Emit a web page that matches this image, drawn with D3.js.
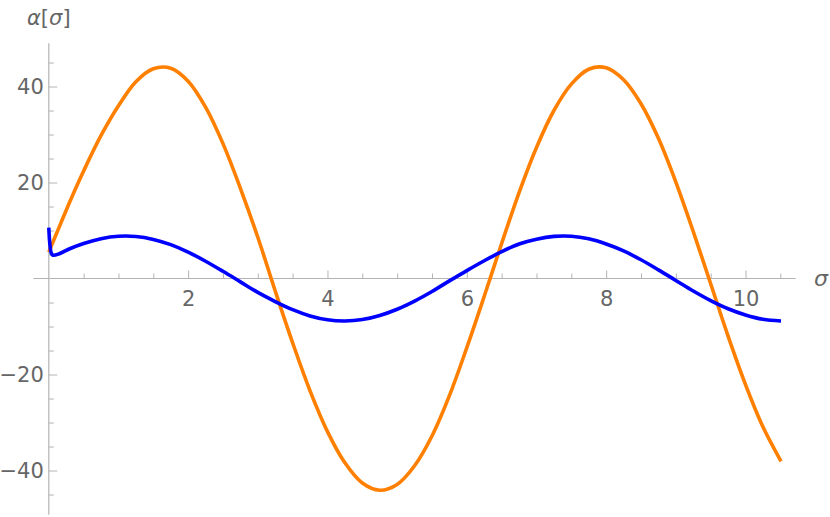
<!DOCTYPE html>
<html>
<head>
<meta charset="utf-8">
<script src="https://cdn.jsdelivr.net/npm/d3@7"></script>
<style>
  body { margin: 0; background: #fff; }
  text { font-family: "DejaVu Sans", sans-serif; }
</style>
</head>
<body>
<script>
// values
const orangeSigma = [0, 0.1, 0.2, 0.35, 0.5, 0.75, 1, 1.25, 1.5, 1.75, 2, 2.25, 2.5, 2.75, 3, 3.25, 3.5, 3.75, 4, 4.25, 4.5, 4.75, 5, 5.25, 5.5, 5.75, 6, 6.25, 6.5, 6.75, 7, 7.25, 7.5, 7.75, 8, 8.25, 8.5, 8.75, 9, 9.25, 9.5, 9.75, 10, 10.25, 10.51];
const orangeAlpha = [5.5, 9.0, 12.5, 17.6, 22.4, 29.8, 36.0, 41.0, 43.7, 43.8, 41.1, 35.7, 28.1, 18.8, 8.6, -2.6, -13.4, -23.4, -31.9, -38.4, -42.6, -44.1, -42.9, -39.0, -32.8, -24.4, -14.4, -3.7, 7.3, 17.9, 27.3, 35.0, 40.5, 43.6, 43.9, 41.4, 36.4, 29.2, 20.1, 9.8, -1.1, -12.0, -22.1, -30.9, -38.1];

const blueSigma = [0, 0.015, 0.035, 0.06, 0.15, 0.3, 0.5, 0.75, 1, 1.25, 1.5, 1.75, 2, 2.25, 2.5, 2.75, 3, 3.25, 3.5, 3.75, 4, 4.25, 4.5, 4.75, 5, 5.25, 5.5, 5.75, 6, 6.25, 6.5, 6.75, 7, 7.25, 7.5, 7.75, 8, 8.25, 8.5, 8.75, 9, 9.25, 9.5, 9.75, 10, 10.25, 10.51];
const blueAlpha = [10.6, 7.2, 5.3, 4.85, 5.15, 6.2, 7.3, 8.3, 8.8, 8.75, 8.15, 7.05, 5.5, 3.6, 1.5, -0.7, -2.9, -4.8, -6.5, -7.8, -8.6, -8.85, -8.56, -7.7, -6.4, -4.7, -2.7, -0.5, 1.65, 3.7, 5.6, 7.2, 8.2, 8.78, 8.8, 8.26, 7.2, 5.76, 3.9, 1.8, -0.4, -2.6, -4.6, -6.3, -7.6, -8.5, -8.85];

const xTicks = [2, 4, 6, 8, 10];
const xMinorTicks = [0.5, 1, 1.5, 2.5, 3, 3.5, 4.5, 5, 5.5, 6.5, 7, 7.5, 8.5, 9, 9.5, 10.5];
const yTicks = [-40, -20, 20, 40];
const yMinorTicks = [-45, -35, -30, -25, -15, -10, -5, 5, 10, 15, 25, 30, 35, 45];

const width = 830, height = 517;
const axisColor = "#b3b3b3", labelColor = "#666666";

const svg = d3.select("body").append("svg")
  .attr("width", width)
  .attr("height", height);

// scales
const x = d3.scaleLinear().domain([0, 10]).range([48.8, 745.5]);
const y = d3.scaleLinear().domain([-40, 40]).range([470.5, 86.5]);

// axis lines
svg.append("line")
  .attr("x1", x(-0.22)).attr("x2", x(10.72))
  .attr("y1", y(0)).attr("y2", y(0))
  .attr("stroke", axisColor).attr("stroke-width", 1.2);
svg.append("line")
  .attr("x1", x(0)).attr("x2", x(0))
  .attr("y1", y(49)).attr("y2", y(-49.2))
  .attr("stroke", axisColor).attr("stroke-width", 1.2);

// x axis ticks (pointing up)
const xMajor = svg.append("g")
  .attr("transform", `translate(0,${y(0)})`)
  .call(d3.axisBottom(x).tickValues(xTicks).tickSize(-8).tickPadding(13));
const xMinor = svg.append("g")
  .attr("transform", `translate(0,${y(0)})`)
  .call(d3.axisBottom(x).tickValues(xMinorTicks).tickSize(-5).tickFormat(""));

// y axis ticks (pointing right)
const yMajor = svg.append("g")
  .attr("transform", `translate(${x(0)},0)`)
  .call(d3.axisLeft(y).tickValues(yTicks).tickSize(-8.5).tickPadding(5));
const yMinor = svg.append("g")
  .attr("transform", `translate(${x(0)},0)`)
  .call(d3.axisLeft(y).tickValues(yMinorTicks).tickSize(-5).tickFormat(""));

[xMajor, xMinor, yMajor, yMinor].forEach(g => {
  g.select(".domain").remove();
  g.selectAll(".tick line").attr("stroke", axisColor).attr("stroke-width", 1);
  g.selectAll(".tick text")
    .attr("fill", labelColor)
    .style("font-family", "'DejaVu Sans', sans-serif")
    .style("font-size", "21px");
});

// curves
const line = d3.line()
  .x(d => x(d[0]))
  .y(d => y(d[1]))
  .curve(d3.curveCatmullRom.alpha(0.5));

svg.append("path")
  .datum(orangeSigma.map((s, i) => [s, orangeAlpha[i]]))
  .attr("d", line)
  .attr("fill", "none")
  .attr("stroke", "#ff8000")
  .attr("stroke-width", 3.6)
  .attr("stroke-linejoin", "round");

svg.append("path")
  .datum(blueSigma.map((s, i) => [s, blueAlpha[i]]))
  .attr("d", line)
  .attr("fill", "none")
  .attr("stroke", "#0000ff")
  .attr("stroke-width", 3.6)
  .attr("stroke-linejoin", "round");

// axis labels
const yLabel = svg.append("text")
  .attr("x", x(0))
  .attr("y", 25)
  .attr("text-anchor", "middle")
  .attr("fill", labelColor)
  .style("font-size", "21px");
yLabel.append("tspan").attr("font-style", "italic").text("α");
yLabel.append("tspan").text("[");
yLabel.append("tspan").attr("font-style", "italic").text("σ");
yLabel.append("tspan").text("]");

svg.append("text")
  .attr("x", 814)
  .attr("y", y(0) + 7)
  .attr("fill", labelColor)
  .attr("font-style", "italic")
  .style("font-size", "22px")
  .text("σ");
</script>
</body>
</html>
